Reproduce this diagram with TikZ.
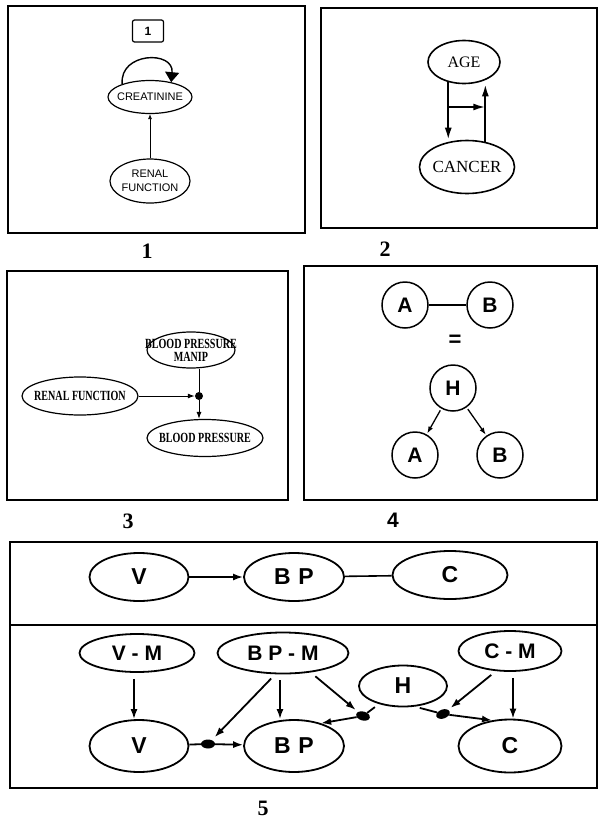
\documentclass[tikz,border=0pt]{standalone}
\usepackage{graphicx}
\usepackage{fontspec}
\setmainfont{Liberation Serif}
\newfontfamily\arialf{Liberation Sans}
\usetikzlibrary{arrows.meta,shapes.geometric,calc}
\begin{document}
\begin{tikzpicture}[x=1pt,y=-1pt,
  panel/.style={draw,line width=2.2pt},
  el/.style={draw,ellipse,line width=1.2pt,inner sep=0pt},
  elb/.style={draw,ellipse,line width=1.8pt,inner sep=0pt},
  circ/.style={draw,circle,line width=1.5pt,inner sep=0pt,minimum size=46pt,font=\arialf\bfseries\fontsize{21}{21}\selectfont},
  bdot/.style={fill,ellipse,inner sep=0pt,minimum width=14pt,minimum height=9pt},
  tag/.style={font=\bfseries\fontsize{22}{22}\selectfont,inner sep=1pt},
  tagsf/.style={font=\arialf\bfseries\fontsize{21}{21}\selectfont,inner sep=1pt},
  big/.style={font=\arialf\bfseries\fontsize{23}{23}\selectfont},
  mid/.style={font=\arialf\bfseries\fontsize{21}{21}\selectfont},
  arrA/.style={-{Latex[length=10pt,width=7pt]},line width=1.8pt},
  arrB/.style={-{Latex[length=12pt,width=7pt]},line width=2pt},
  arrS/.style={-{Latex[length=7pt,width=5pt]},line width=1pt},
]
\useasboundingbox (0,0) rectangle (598,828);
\fill[white] (0,0) rectangle (598,828);

% ---------- panel 1
\draw[panel] (8,6) rectangle (305,233);
\node[draw,rounded corners=2pt,line width=1.2pt,minimum width=31pt,minimum height=22pt,inner sep=0pt,font=\arialf\bfseries\fontsize{12}{12}\selectfont] (one) at (148,31) {1};
\node[el,minimum width=84pt,minimum height=33pt,label={[font=\arialf\fontsize{11}{11}\selectfont]center:CREATININE}] (cr) at (150,97) {};
\node[el,minimum width=80pt,minimum height=44pt,label={[align=center,font=\arialf\fontsize{11}{14}\selectfont]center:RENAL\\FUNCTION}] (rf) at (150,181) {};
\draw[line width=0.8pt,-{Latex[length=5pt,width=4pt]}] (rf) -- (cr);
\draw[line width=1.4pt,-{Triangle[length=10pt,width=14pt]}] (cr.155) .. controls +(-3,-32) and +(3,-32) .. (cr.35);
\node[tag] (l1) at (147,251) {1};

% ---------- panel 2
\draw[panel] (321,8) rectangle (597,228);
\node[el,line width=1.6pt,minimum width=72pt,minimum height=43pt,label={[font=\fontsize{16}{16}\selectfont]center:AGE}] (age) at (464,62) {};
\node[el,line width=1.6pt,minimum width=95pt,minimum height=53pt,label={[font=\fontsize{17}{17}\selectfont]center:CANCER}] (can) at (467,167) {};
\draw[arrB] (age.232) -- (age.232 |- can.north);
\draw[arrB] (can.54) -- (can.54 |- age.south);
\coordinate (hl) at (449,107);
\draw[arrB] (hl) -- (hl -| can.54);
\node[tag] (l2) at (385,249) {2};

% ---------- panel 3
\draw[panel] (7,271) rectangle (288,500);
\node[el,minimum width=116pt,minimum height=38pt,label={[font=\bfseries\fontsize{14}{14}\selectfont]center:\scalebox{0.72}[1]{RENAL FUNCTION}}] (rf3) at (80,396) {};
\node[el,minimum width=88pt,minimum height=36pt,label={[align=center,font=\bfseries\fontsize{14}{13}\selectfont]center:\scalebox{0.72}[1]{BLOOD PRESSURE}\\\scalebox{0.72}[1]{MANIP}}] (bpm3) at (191,350) {};
\node[el,minimum width=116pt,minimum height=37pt,label={[font=\bfseries\fontsize{14}{14}\selectfont]center:\scalebox{0.72}[1]{BLOOD PRESSURE}}] (bp3) at (205,438) {};
\node[fill,circle,inner sep=0pt,minimum size=8pt] (jd) at (199,396) {};
\draw[arrS] (rf3) -- (jd);
\draw[line width=1pt] (bpm3.south -| jd) -- (jd);
\draw[arrS] (jd) -- (jd |- bp3.north);
\node[tag] (l3) at (128,521) {3};

% ---------- panel 4
\draw[panel] (304,266) rectangle (597,500);
\node[circ] (a1) at (405,305) {A};
\node[circ] (b1) at (490,305) {B};
\draw[line width=1.3pt] (a1) -- (b1);
\node[font=\arialf\bfseries\fontsize{22}{22}\selectfont] (eq) at (455,341) {=};
\node[circ] (hh) at (453,388) {H};
\node[circ] (a2) at (415,455) {A};
\node[circ] (b2) at (500,455) {B};
\draw[arrS,line width=1.3pt,shorten <=2pt,shorten >=1pt] (hh) -- (a2);
\draw[arrS,line width=1.3pt,shorten <=2pt,shorten >=1pt] (hh) -- (b2);
\node[tagsf] (l4) at (393,520) {4};

% ---------- panel 5
\draw[panel] (10,542) rectangle (597,788);
\draw[panel] (10,625) -- (597,625);
% top row
\node[elb,minimum width=99pt,minimum height=48pt,big] (v1) at (139,577) {V};
\node[elb,minimum width=100pt,minimum height=48pt,big] (bp1) at (294,577) {B\,\,P};
\node[elb,minimum width=115pt,minimum height=48pt,big] (c1) at (450,575) {C};
\draw[arrA] (v1) -- (bp1);
\draw[line width=1.6pt] (bp1) -- (c1);
% bottom row
\node[elb,minimum width=115pt,minimum height=38pt,mid] (vm) at (137,653) {V - M};
\node[elb,minimum width=131pt,minimum height=41pt,mid] (bpm) at (283,653) {B P - M};
\node[elb,minimum width=103pt,minimum height=40pt,mid] (cm) at (510,651) {C - M};
\node[elb,minimum width=88pt,minimum height=41pt,big] (h5) at (403,686) {H};
\node[elb,minimum width=99pt,minimum height=52pt,big] (v2) at (139,746) {V};
\node[elb,minimum width=100pt,minimum height=52pt,big] (bp2) at (294,746) {B\,\,P};
\node[elb,minimum width=103pt,minimum height=53pt,big] (c2) at (510,746) {C};
\node[bdot] (d1) at (208,744) {};
\node[bdot,rotate=-15] (d2) at (363,716) {};
\node[bdot,rotate=20] (d3) at (443,714) {};
\draw[arrA,shorten <=6pt] (vm.south -| 134,0) -- (134,0 |- v2.north);
\draw[arrA,shorten <=6pt] (bpm.south -| 280,0) -- (280,0 |- bp2.north);
\draw[arrA,shorten <=6pt] (cm.south -| 513,0) -- (513,0 |- c2.north);
\draw[arrA,shorten <=6pt,shorten >=4pt] (bpm.250) -- (d1);
\draw[line width=1.8pt] (v2) -- (d1);
\draw[arrA] (d1) -- (bp2);
\draw[arrA,shorten <=6pt,shorten >=3pt] (bpm.-35) -- (d2);
\draw[line width=1.8pt,shorten <=5pt] (h5) -- (d2);
\draw[arrA] (d2) -- (bp2.40);
\draw[line width=1.8pt,shorten <=5pt] (h5.-60) -- (d3);
\draw[arrA,shorten <=6pt,shorten >=3pt] (cm.235) -- (d3);
\draw[arrA] (d3) -- (c2.125);
\node[tag] (l5) at (263,808) {5};
\end{tikzpicture}
\end{document}
